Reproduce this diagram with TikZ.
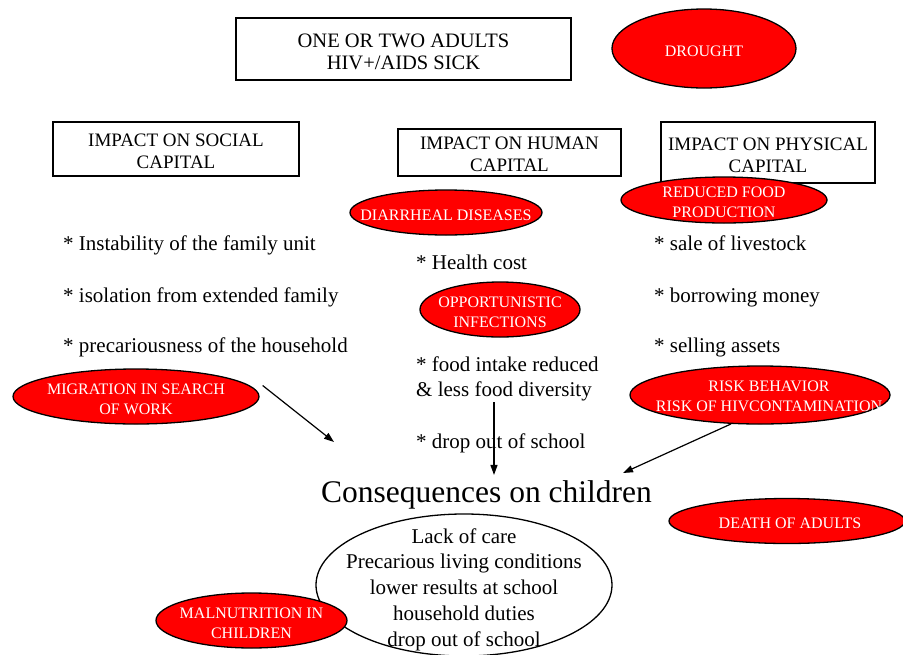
\documentclass[tikz,border=0pt]{standalone}
\usepackage{fontspec}
\setmainfont{Liberation Serif}
\usetikzlibrary{shapes.geometric,arrows.meta}

\begin{document}
\begin{tikzpicture}[x=1pt, y=-1pt,
  capital/.style={draw,rectangle,line width=1.6pt,align=center,inner sep=0pt,text height=40pt,font=\fontsize{19}{22}\selectfont},
  hazard/.style={draw,ellipse,fill=red,line width=1.3pt,inner sep=0pt},
  hazardtext/.style={text=white,align=center,inner sep=0pt,yshift=-2.5pt,font=\fontsize{16}{20}\selectfont},
  listline/.style={anchor=base west,inner sep=0pt,font=\fontsize{21}{25}\selectfont},
  >={Triangle[length=10pt,width=7pt]}]
  \fill[white] (0,0) rectangle (903,654);
  \useasboundingbox (0,0) rectangle (903,654);
  % Nodes
  \node[capital,minimum width=335,minimum height=62,text height=41pt,font=\fontsize{20.5}{22}\selectfont] (Sick) at (403.5,49) {ONE OR TWO ADULTS\\HIV+/AIDS SICK};
  \node[hazard,minimum width=184,minimum height=79,label={[hazardtext]center:DROUGHT}] (Drought) at (704,48.5) {};
  \node[capital,minimum width=246,minimum height=54] (Social) at (176,149) {IMPACT ON SOCIAL\\CAPITAL};
  \node[capital,minimum width=223,minimum height=47,text height=38.5pt] (Human) at (509.5,152.5) {IMPACT ON HUMAN\\CAPITAL};
  \node[capital,minimum width=214,minimum height=61,text height=39.5pt] (Physical) at (768,152.5) {IMPACT ON PHYSICAL\\CAPITAL};
  \node[hazard,minimum width=206,minimum height=46,label={[hazardtext]center:{REDUCED FOOD\\PRODUCTION}}] (Food) at (724,200) {};
  \node[hazard,minimum width=192,minimum height=45,label={[hazardtext]center:DIARRHEAL DISEASES}] (Diarrhea) at (446,212.5) {};
  \node[hazard,minimum width=160,minimum height=55,label={[hazardtext]center:{OPPORTUNISTIC\\INFECTIONS}}] (Infections) at (500,309.5) {};
  % Social capital
  \node[listline] (Instability) at (63,250) {* Instability of the family unit};
  \node[listline] (Isolation) at (63,302) {* isolation from extended family};
  \node[listline] (Precarious) at (63,352) {* precariousness of the household};
  % Human capital
  \node[listline] (Health) at (416,269) {* Health cost};
  \node[listline] (Intake) at (416,371) {* food intake reduced};
  \node[listline] (Diversity) at (416,396) {\& less food diversity};
  \node[listline] (Dropout) at (416,448) {* drop out of school};
  % Physical capital
  \node[listline] (Livestock) at (654,250) {* sale of livestock};
  \node[listline] (Borrowing) at (654,302) {* borrowing money};
  \node[listline] (Assets) at (654,352) {* selling assets};
  \node[hazard,minimum width=246,minimum height=55,label={[hazardtext]center:{MIGRATION IN SEARCH\\OF WORK}}] (Migration) at (136,396.5) {};
  \node[hazard,minimum width=260,minimum height=58,label={[hazardtext,xshift=9pt,yshift=1.5pt]center:{RISK BEHAVIOR\\RISK OF HIVCONTAMINATION}}] (Risk) at (760,395) {};
  % Consequences
  \node[anchor=base,inner sep=5pt,font=\fontsize{31.5}{36}\selectfont] (Cons) at (486.5,502) {Consequences on children};
  \node[hazard,minimum width=236,minimum height=45,label={[hazardtext,xshift=3pt]center:DEATH OF ADULTS}] (Death) at (787,521) {};
  \node[draw,ellipse,fill=white,line width=1.3pt,inner sep=0pt,minimum width=296,minimum height=142,
    label={[align=center,inner sep=0pt,yshift=-4.5pt,font=\fontsize{21}{25.7}\selectfont]center:{Lack of care\\Precarious living conditions\\lower results at school\\household duties\\drop out of school}}] (Effects) at (464,585) {};
  \node[hazard,minimum width=191,minimum height=55,label={[hazardtext]center:{MALNUTRITION IN\\CHILDREN}}] (Malnutrition) at (251.5,620.5) {};
  \coordinate (MigEnd) at (334,442);
  \coordinate (FoodTop) at (494,402);
  \coordinate (RiskEnd) at (623,473);
  % Edges
  \draw[->,line width=1.2pt] ([shift={(3,-11)}]Migration.east) -- (MigEnd);
  \draw[->,line width=1.2pt] (FoodTop) -- (FoodTop |- Cons.north);
  \draw[->,line width=1.2pt] (Risk.225) -- (RiskEnd);
\end{tikzpicture}
\end{document}
